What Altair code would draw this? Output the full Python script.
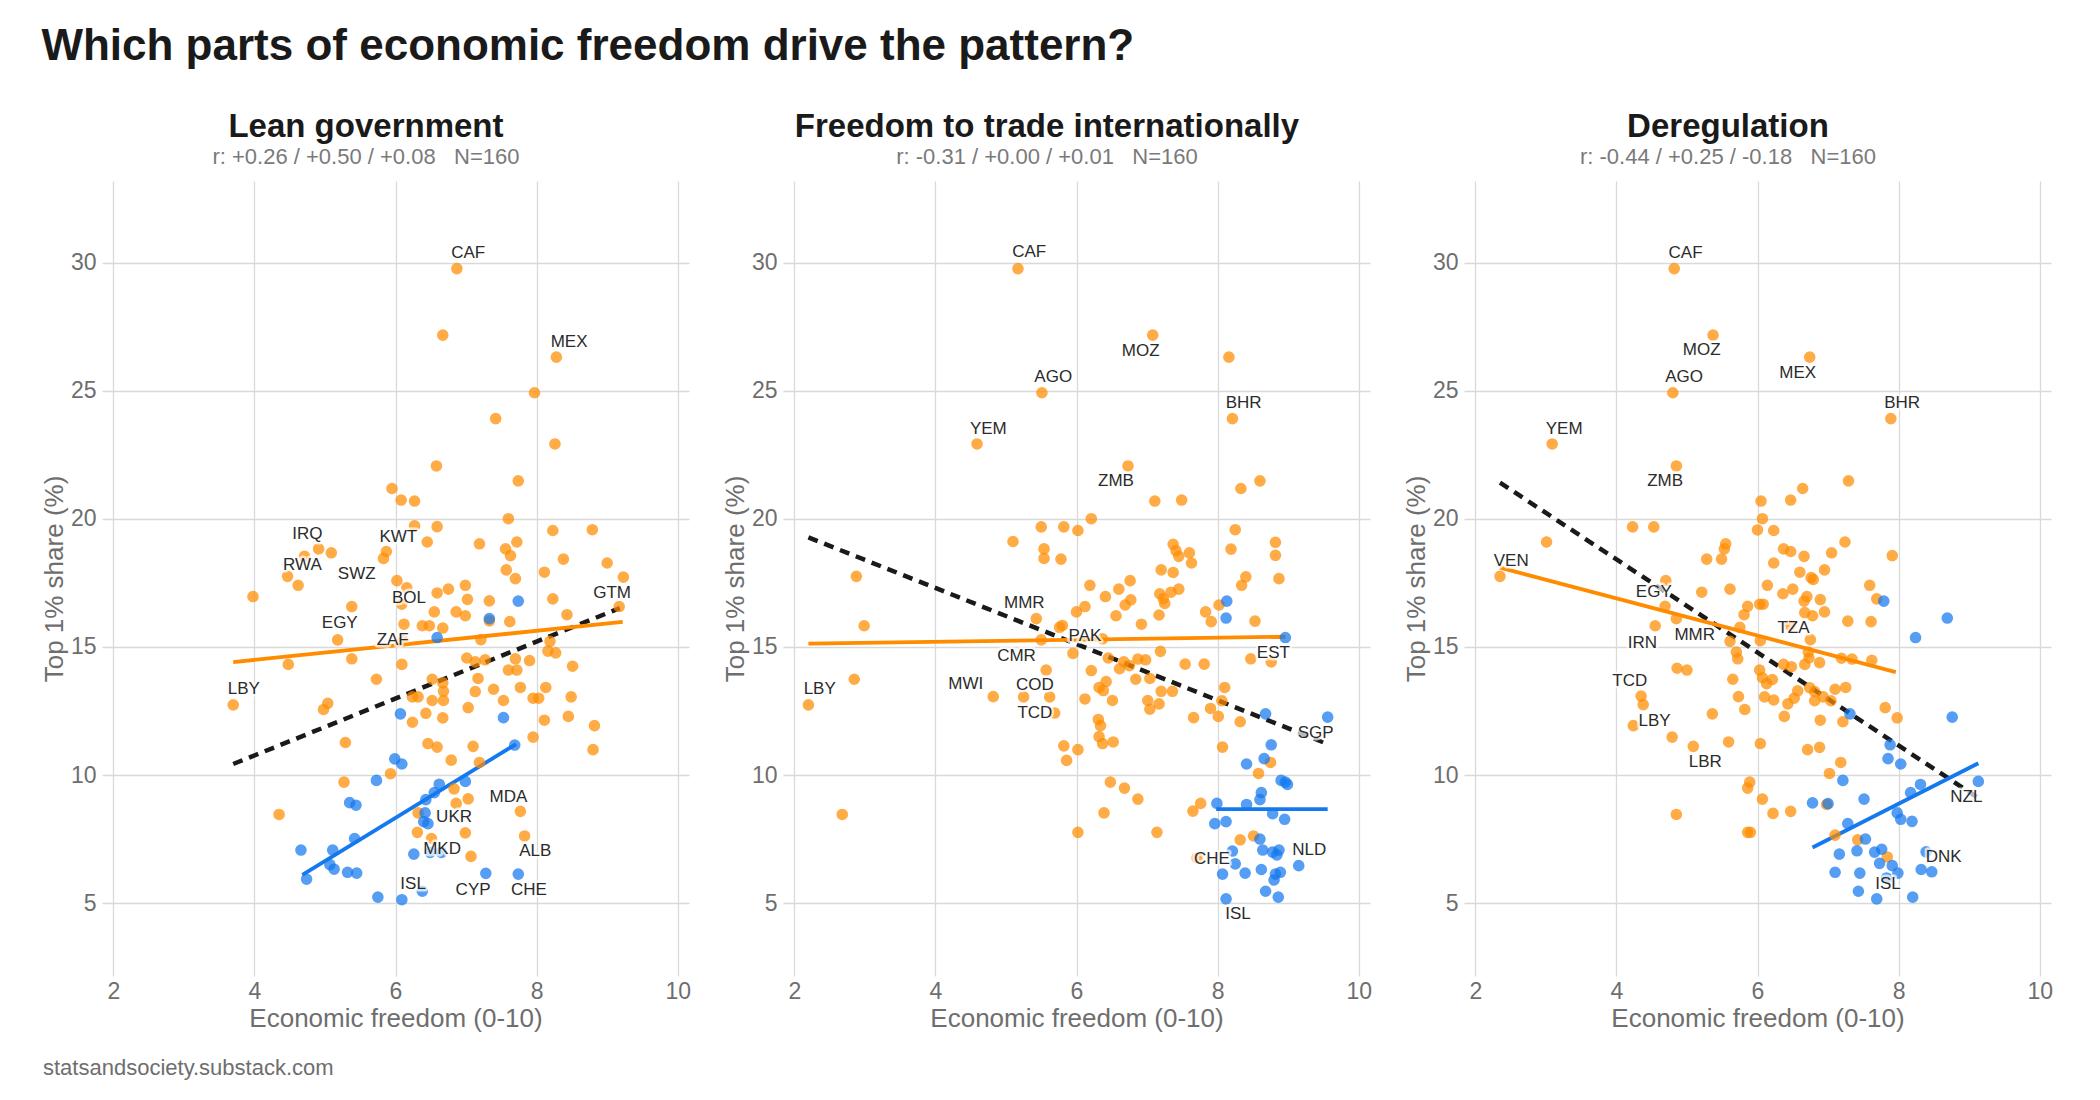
import altair as alt
import pandas as pd

FONT = "Liberation Sans"
ORANGE = "#FF8C00"
BLUE = "#1479EE"
SOURCE = "statsandsociety.substack.com"
MAIN_TITLE = "Which parts of economic freedom drive the pattern?"
X_TITLE = "Economic freedom (0-10)"
Y_TITLE = "Top 1% share (%)"
X_TICKS = [2, 4, 6, 8, 10]
Y_TICKS = [5, 10, 15, 20, 25, 30]

# ---------------- Panel 1: Lean government ----------------
lean_title = "Lean government"
lean_sub = "r: +0.26 / +0.50 / +0.08\u00a0\u00a0\u00a0N=160"
lean_orange_x = [6.87, 6.67, 8.28, 7.97, 7.42, 8.26, 6.58, 7.74, 5.95, 6.08, 6.27, 7.60,
                 6.27, 6.59, 8.23, 8.79, 6.45, 7.19, 7.72, 4.91, 5.09, 4.71, 5.87, 5.83, 7.56, 7.63, 8.38, 9.00,
                 7.57, 8.11, 9.23, 4.47, 4.62, 6.02, 6.16, 7.70, 3.98, 6.99, 6.75, 6.59, 7.02, 7.33, 8.23, 6.09,
                 5.38, 9.17, 6.55, 6.86, 6.99, 8.43, 7.33, 7.62, 6.12, 6.38, 6.48, 6.67, 5.18, 7.21, 8.19, 6.11,
                 8.16, 8.27, 5.38, 4.48, 6.09, 7.01, 7.13, 7.27, 7.70, 7.90, 7.60, 7.72, 8.51, 5.73, 6.52, 6.67,
                 7.17, 6.68, 7.13, 7.39, 7.77, 8.13, 3.70, 5.04, 4.98, 6.24, 6.32, 6.52, 6.68, 7.53, 7.95, 8.03,
                 8.49, 7.03, 6.43, 6.24, 6.67, 8.11, 8.45, 8.82, 5.29, 6.46, 6.59, 7.10, 7.95, 8.80, 6.79, 7.19,
                 5.93, 5.27, 6.83, 6.86, 7.03, 4.35, 7.77, 6.32, 6.99, 6.31, 7.83, 6.51, 7.07]
lean_orange_y = [29.78, 27.18, 26.32, 24.93, 23.92, 22.93, 22.07, 21.49, 21.19, 20.74, 20.70, 20.01,
                 19.73, 19.70, 19.55, 19.58, 19.10, 19.03, 19.10, 18.83, 18.68, 18.54, 18.73, 18.46, 18.83, 18.57, 18.43, 18.28,
                 18.01, 17.92, 17.73, 17.76, 17.41, 17.59, 17.31, 17.67, 16.97, 17.41, 17.26, 17.11, 16.86, 16.80, 16.88, 16.67,
                 16.58, 16.58, 16.37, 16.37, 16.22, 16.26, 16.02, 15.99, 15.89, 15.83, 15.83, 15.74, 15.28, 15.29, 15.22, 15.25,
                 14.84, 14.77, 14.54, 14.32, 14.32, 14.57, 14.42, 14.50, 14.54, 14.47, 14.10, 14.10, 14.25, 13.74, 13.74, 13.60,
                 13.77, 13.27, 13.26, 13.35, 13.42, 13.42, 12.74, 12.80, 12.56, 13.05, 13.05, 12.91, 12.91, 12.91, 13.00, 13.00,
                 13.05, 12.63, 12.41, 12.06, 12.23, 12.14, 12.29, 11.93, 11.27, 11.23, 11.09, 11.12, 11.48, 10.99, 10.58, 10.49,
                 10.05, 9.72, 9.46, 8.89, 9.07, 8.46, 8.58, 8.52, 7.74, 7.76, 7.62, 7.52, 6.82]
lean_blue_x = [7.74, 7.33, 6.59, 6.07, 7.53, 7.69, 5.99, 6.09, 5.73, 6.62, 6.99, 6.55, 6.43, 5.35, 5.44,
               6.42, 6.40, 6.46, 5.42, 4.66, 5.11, 6.26, 6.49, 6.65, 5.07, 5.13, 4.74, 5.32, 5.45, 7.28,
               7.74, 5.75, 6.09, 6.38]
lean_blue_y = [16.79, 16.11, 15.37, 12.39, 12.24, 11.17, 10.63, 10.43, 9.79, 9.64, 9.75, 9.31, 9.04, 8.92, 8.82,
               8.52, 8.18, 8.10, 7.52, 7.07, 7.07, 6.91, 6.98, 6.98, 6.50, 6.32, 5.93, 6.20, 6.17, 6.16,
               6.13, 5.23, 5.13, 5.46]
lean_fit_orange = ([3.70, 9.22], [14.41, 15.98])
lean_fit_blue = ([4.68, 7.71], [6.10, 11.21])
lean_fit_all = ([3.70, 9.18], [10.43, 16.52])
lean_labels = ["CAF", "MEX", "IRQ", "KWT", "RWA", "SWZ", "BOL", "GTM", "EGY", "ZAF", "LBY",
               "MDA", "UKR", "MKD", "ALB", "ISL", "CYP", "CHE"]
lean_label_x = [7.03, 8.46, 4.75, 6.04, 4.68, 5.45, 6.19, 9.07, 5.21, 5.96, 3.85,
                7.60, 6.83, 6.66, 7.98, 6.25, 7.10, 7.89]
lean_label_y = [30.38, 26.90, 19.43, 19.28, 18.21, 17.86, 16.93, 17.12, 15.92, 15.28, 13.35,
                9.16, 8.36, 7.10, 7.03, 5.76, 5.49, 5.49]

# ---------------- Panel 2: Freedom to trade internationally ----------------
trade_title = "Freedom to trade internationally"
trade_sub = "r: -0.31 / +0.00 / +0.01\u00a0\u00a0\u00a0N=160"
trade_orange_x = [5.17, 7.08, 8.16, 5.51, 8.21, 4.59, 6.73, 8.60, 8.33, 7.11, 7.49, 6.21,
                  5.50, 5.82, 6.02, 5.10, 8.25, 8.82, 7.37, 7.41, 7.45, 7.60, 7.63, 5.54, 5.54, 5.78, 8.19, 8.82,
                  2.88, 7.20, 7.37, 8.40, 8.87, 6.76, 6.19, 8.34, 6.60, 7.45, 7.18, 7.34, 6.41, 7.23, 6.77, 7.25,
                  6.69, 8.02, 6.12, 6.00, 7.83, 7.17, 6.56, 5.43, 7.91, 8.53, 6.92, 2.99, 5.76, 5.80, 5.50, 6.37,
                  7.19, 5.95, 6.45, 6.67, 6.87, 6.98, 6.61, 6.75, 8.47, 8.76, 7.54, 7.81, 5.57, 6.21, 2.85, 6.42,
                  6.84, 7.04, 6.32, 6.38, 7.20, 7.36, 8.10, 2.20, 4.82, 5.25, 5.62, 6.12, 6.51, 7.01, 7.17, 7.04,
                  8.06, 7.90, 5.69, 7.66, 8.01, 6.31, 6.34, 8.32, 6.32, 6.37, 6.52, 5.82, 6.02, 5.86, 8.07, 8.75,
                  8.58, 6.48, 6.68, 6.87, 7.76, 7.65, 6.39, 6.02, 7.14, 8.32, 8.51, 7.71, 2.68]
trade_orange_y = [29.78, 27.18, 26.32, 24.93, 23.92, 22.93, 22.07, 21.49, 21.19, 20.70, 20.74, 20.01,
                  19.69, 19.69, 19.55, 19.12, 19.58, 19.09, 19.01, 18.76, 18.54, 18.68, 18.28, 18.83, 18.46, 18.43, 18.82, 18.58,
                  17.76, 18.01, 17.91, 17.74, 17.67, 17.59, 17.41, 17.41, 17.26, 17.26, 17.08, 17.14, 16.97, 16.89, 16.84, 16.70,
                  16.64, 16.64, 16.58, 16.37, 16.37, 16.25, 16.22, 16.11, 15.99, 16.01, 15.89, 15.83, 15.77, 15.84, 15.28, 15.32,
                  14.83, 14.75, 14.57, 14.42, 14.53, 14.50, 14.15, 14.27, 14.54, 14.42, 14.33, 14.33, 14.10, 14.08, 13.74, 13.65,
                  13.74, 13.77, 13.42, 13.30, 13.27, 13.27, 13.42, 12.74, 13.06, 13.05, 13.05, 12.97, 12.91, 12.91, 12.78, 12.57,
                  12.90, 12.60, 12.42, 12.24, 12.29, 12.17, 11.93, 12.08, 11.50, 11.23, 11.29, 11.14, 10.99, 10.57, 11.09, 10.49,
                  10.06, 9.72, 9.49, 9.06, 8.89, 8.59, 8.52, 7.76, 7.76, 7.47, 7.62, 6.76, 8.46]
trade_blue_x = [8.13, 8.12, 8.96, 8.68, 9.56, 8.76, 8.66, 8.41, 8.90, 8.96, 8.99, 8.62, 8.60, 7.99, 8.41,
                7.96, 8.12, 8.78, 8.95, 8.60, 8.64, 8.78, 8.87, 8.84, 8.21, 8.25, 9.15, 8.07, 8.39, 8.62,
                8.82, 8.89, 8.80, 8.68, 8.86, 8.12]
trade_blue_y = [16.79, 16.13, 15.37, 12.39, 12.26, 11.18, 10.64, 10.43, 9.79, 9.72, 9.63, 9.31, 9.04, 8.89, 8.85,
                8.10, 8.18, 8.49, 8.27, 7.50, 7.07, 6.99, 7.07, 6.88, 7.03, 6.53, 6.46, 6.13, 6.17, 6.31,
                6.13, 6.20, 5.90, 5.46, 5.23, 5.16]
trade_fit_orange = ([2.20, 8.96], [15.13, 15.40])
trade_fit_blue = ([7.98, 9.56], [8.67, 8.67])
trade_fit_all = ([2.20, 9.56], [19.28, 11.21])
trade_labels = ["CAF", "MOZ", "AGO", "BHR", "YEM", "ZMB", "MMR", "PAK", "CMR", "EST", "MWI",
                "COD", "LBY", "TCD", "SGP", "CHE", "NLD", "ISL"]
trade_label_x = [5.33, 6.91, 5.67, 8.37, 4.75, 6.56, 5.26, 6.12, 5.15, 8.79, 4.43,
                 5.41, 2.36, 5.41, 9.39, 7.92, 9.30, 8.29]
trade_label_y = [30.41, 26.55, 25.53, 24.51, 23.53, 21.48, 16.71, 15.41, 14.63, 14.75, 13.57,
                 13.50, 13.35, 12.42, 11.64, 6.73, 7.07, 4.57]

# ---------------- Panel 3: Deregulation ----------------
dereg_title = "Deregulation"
dereg_sub = "r: -0.44 / +0.25 / -0.18\u00a0\u00a0\u00a0N=160"
dereg_orange_x = [4.82, 5.37, 6.74, 4.80, 7.89, 3.09, 4.85, 7.29, 6.64, 6.05, 6.47, 6.07,
                  4.23, 4.53, 6.00, 6.23, 3.01, 5.55, 5.53, 7.24, 6.37, 6.47, 7.05, 7.91, 6.66, 5.28, 5.49, 6.23,
                  6.95, 6.60, 6.76, 6.79, 2.35, 4.70, 6.14, 7.59, 5.61, 6.50, 5.21, 6.36, 6.70, 6.89, 7.69, 6.66,
                  6.03, 6.08, 5.86, 4.69, 5.81, 6.67, 6.78, 6.95, 4.85, 7.28, 7.61, 4.55, 5.75, 6.46, 5.61, 6.04,
                  6.75, 5.70, 5.72, 6.72, 6.73, 7.19, 7.34, 7.62, 6.88, 6.37, 6.48, 6.67, 4.86, 5.00, 6.03, 5.65,
                  6.07, 6.21, 6.13, 6.57, 6.74, 6.81, 7.10, 7.25, 4.35, 4.38, 5.73, 6.10, 6.23, 6.52, 6.81, 6.93,
                  7.04, 6.43, 5.82, 7.81, 5.36, 6.38, 7.98, 6.89, 7.21, 4.24, 4.79, 5.59, 6.04, 5.09, 6.88, 6.71,
                  7.18, 7.02, 5.89, 5.86, 6.07, 6.98, 6.22, 6.47, 4.85, 5.86, 5.90, 7.10, 7.42, 7.84]
dereg_orange_y = [29.78, 27.18, 26.32, 24.93, 23.92, 22.93, 22.07, 21.49, 21.19, 20.70, 20.74, 20.01,
                  19.69, 19.69, 19.57, 19.55, 19.10, 19.03, 18.83, 19.10, 18.83, 18.73, 18.68, 18.57, 18.54, 18.43, 18.43, 18.28,
                  18.01, 17.92, 17.71, 17.64, 17.76, 17.59, 17.41, 17.41, 17.26, 17.26, 17.14, 17.08, 16.97, 16.85, 16.88, 16.79,
                  16.67, 16.67, 16.59, 16.59, 16.26, 16.34, 16.22, 16.37, 16.11, 16.01, 15.99, 15.83, 15.77, 15.84, 15.22, 15.25,
                  15.29, 14.80, 14.54, 14.80, 14.57, 14.56, 14.53, 14.48, 14.39, 14.32, 14.23, 14.32, 14.17, 14.10, 14.10, 13.74,
                  13.80, 13.73, 13.57, 13.29, 13.41, 13.26, 13.35, 13.42, 13.08, 12.75, 13.06, 13.05, 12.93, 13.00, 12.90, 13.05,
                  12.90, 12.78, 12.56, 12.63, 12.39, 12.29, 12.23, 12.14, 12.08, 11.93, 11.48, 11.29, 11.23, 11.12, 11.08, 10.99,
                  10.49, 10.06, 9.72, 9.49, 9.06, 8.85, 8.50, 8.58, 8.46, 7.76, 7.76, 7.65, 7.47, 6.80]
dereg_blue_x = [7.79, 8.69, 8.24, 7.31, 8.76, 7.88, 7.85, 8.03, 7.21, 8.31, 8.17, 9.13, 7.51, 6.78, 7.00,
                7.98, 8.03, 8.19, 7.28, 7.53, 7.41, 7.66, 7.76, 7.16, 8.39, 7.73, 7.91, 7.10, 7.45, 7.99,
                8.32, 8.47, 7.83, 7.43, 7.69, 8.20]
dereg_blue_y = [16.79, 16.13, 15.37, 12.39, 12.26, 11.18, 10.64, 10.43, 9.79, 9.63, 9.31, 9.75, 9.06, 8.91, 8.88,
                8.52, 8.27, 8.19, 8.10, 7.50, 7.04, 6.99, 7.10, 6.91, 7.00, 6.55, 6.46, 6.20, 6.17, 6.17,
                6.31, 6.22, 5.98, 5.46, 5.16, 5.23]
dereg_fit_orange = ([2.35, 7.96], [18.10, 14.02])
dereg_fit_blue = ([6.78, 9.13], [7.17, 10.46])
dereg_fit_all = ([2.35, 9.13], [21.42, 9.10])
dereg_labels = ["CAF", "MOZ", "AGO", "MEX", "BHR", "YEM", "ZMB", "VEN", "EGY", "TZA", "IRN",
                "MMR", "TCD", "LBY", "LBR", "NZL", "DNK", "ISL"]
dereg_label_x = [4.98, 5.21, 4.96, 6.57, 8.05, 3.26, 4.69, 2.51, 4.53, 6.51, 4.37,
                 5.11, 4.19, 4.54, 5.26, 8.96, 8.64, 7.85]
dereg_label_y = [30.38, 26.58, 25.53, 25.70, 24.51, 23.53, 21.48, 18.36, 17.14, 15.74, 15.17,
                 15.47, 13.68, 12.11, 10.49, 9.15, 6.80, 5.76]

X_DOMAIN = [1.84, 10.16]
Y_DOMAIN = [2.15, 33.2]
PANEL_W = 587
PANEL_H = 795


def panel(title, sub, ox, oy, bx, by, fit_o, fit_b, fit_a, labs, lx, ly):
    pts = pd.DataFrame({
        "x": ox + bx,
        "y": oy + by,
        "grp": ["orange"] * len(ox) + ["blue"] * len(bx),
    })
    fo = pd.DataFrame({"x": fit_o[0], "y": fit_o[1]})
    fb = pd.DataFrame({"x": fit_b[0], "y": fit_b[1]})
    fa = pd.DataFrame({"x": fit_a[0], "y": fit_a[1]})
    lab = pd.DataFrame({"x": lx, "y": ly, "lab": labs})

    X = alt.X("x:Q", scale=alt.Scale(domain=X_DOMAIN, nice=False, zero=False),
              axis=alt.Axis(values=X_TICKS, title=X_TITLE, labelPadding=4, titlePadding=2))
    Y = alt.Y("y:Q", scale=alt.Scale(domain=Y_DOMAIN, nice=False, zero=False),
              axis=alt.Axis(values=Y_TICKS, title=Y_TITLE, labelPadding=6, titlePadding=3))

    l_all = alt.Chart(fa).mark_line(color="#1A1A1A", strokeWidth=4.5, strokeDash=[10, 7]).encode(x=X, y=Y)
    l_o = alt.Chart(fo).mark_line(color=ORANGE, strokeWidth=3.8).encode(x=X, y=Y)
    l_b = alt.Chart(fb).mark_line(color=BLUE, strokeWidth=3.8).encode(x=X, y=Y)
    dots = alt.Chart(pts).mark_circle(size=135, opacity=0.72).encode(
        x=X, y=Y,
        color=alt.Color("grp:N", scale=alt.Scale(domain=["orange", "blue"], range=[ORANGE, BLUE]), legend=None),
    )
    halo = alt.Chart(lab).mark_text(fontSize=17, font=FONT, color="white", stroke="white",
                                    strokeWidth=5, opacity=0.7, strokeJoin="round").encode(x=X, y=Y, text="lab:N")
    txt = alt.Chart(lab).mark_text(fontSize=17, font=FONT, color="#2B2B2B").encode(x=X, y=Y, text="lab:N")

    return alt.layer(l_all, l_o, l_b, dots, halo, txt).properties(
        width=PANEL_W, height=PANEL_H,
        title=alt.TitleParams(text=title, subtitle=sub, fontSize=33, fontWeight="bold", font=FONT,
                              color="#1A1A1A", subtitleFont=FONT, subtitleFontSize=22, subtitleColor="#7A7A7A",
                              anchor="middle", frame="bounds", offset=13, subtitlePadding=3),
    )


p1 = panel(lean_title, lean_sub, lean_orange_x, lean_orange_y, lean_blue_x, lean_blue_y,
           lean_fit_orange, lean_fit_blue, lean_fit_all, lean_labels, lean_label_x, lean_label_y)
p2 = panel(trade_title, trade_sub, trade_orange_x, trade_orange_y, trade_blue_x, trade_blue_y,
           trade_fit_orange, trade_fit_blue, trade_fit_all, trade_labels, trade_label_x, trade_label_y)
p3 = panel(dereg_title, dereg_sub, dereg_orange_x, dereg_orange_y, dereg_blue_x, dereg_blue_y,
           dereg_fit_orange, dereg_fit_blue, dereg_fit_all, dereg_labels, dereg_label_x, dereg_label_y)

source = alt.Chart(pd.DataFrame({"t": [SOURCE]})).mark_text(
    align="left", baseline="top", fontSize=22, font=FONT, color="#6E6E6E", dx=-59
).encode(text="t:N", x=alt.value(0), y=alt.value(0)).properties(width=10, height=20)

chart = alt.vconcat(
    alt.hconcat(p1, p2, p3, spacing=31),
    source,
    spacing=26,
).properties(
    title=alt.TitleParams(text=MAIN_TITLE, fontSize=44, fontWeight="bold", font=FONT, color="#1A1A1A",
                          anchor="start", offset=42),
    padding={"left": 33, "top": 17, "right": 5, "bottom": 5},
).configure_view(stroke=None).configure_axis(
    grid=True, gridColor="#D9D9D9", gridWidth=1.3, domain=False, ticks=False,
    labelFont=FONT, titleFont=FONT, labelFontSize=23, titleFontSize=26, titleFontWeight="normal",
    labelColor="#6E6E6E", titleColor="#6E6E6E",
)

chart.save("out.html", embed_options={"renderer": "svg", "actions": False})
